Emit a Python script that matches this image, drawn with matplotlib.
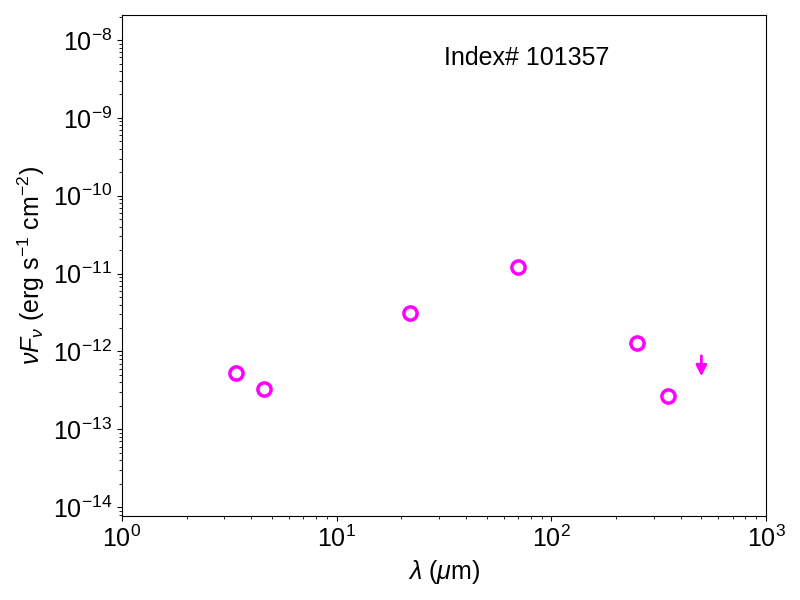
import matplotlib
matplotlib.use("Agg")
import matplotlib.pyplot as plt
from matplotlib.patches import FancyArrowPatch

plt.rcParams['font.family'] = ['Liberation Sans', 'DejaVu Sans']
plt.rcParams['mathtext.fontset'] = 'custom'
plt.rcParams['mathtext.rm'] = 'Liberation Sans'
plt.rcParams['mathtext.it'] = 'Liberation Sans:italic'
plt.rcParams['mathtext.bf'] = 'Liberation Sans:bold'

# photometry (micron, erg/s/cm2)
wave = [3.4, 4.6, 22.0, 70.0, 250.0, 350.0]
flux = [5.3e-13, 3.25e-13, 3.1e-12, 1.22e-11, 1.3e-12, 2.65e-13]
# upper limit
lim_wave = 500.0
lim_flux = 8.8e-13
lim_tip = 4.8e-13

fig = plt.figure(figsize=(8, 6), dpi=100)
ax = fig.add_axes([0.1525, 0.14, 0.805, 0.835])

ax.plot(wave, flux, 'o', mfc='none', mec='magenta', ms=9.5, mew=2.5)
arr = FancyArrowPatch((lim_wave, lim_flux), (lim_wave, lim_tip),
                      arrowstyle='-|>', color='magenta', lw=2,
                      mutation_scale=16, shrinkA=0, shrinkB=0)
ax.add_patch(arr)

ax.set_xscale('log')
ax.set_yscale('log')
ax.set_xlim(1, 1000)
ax.set_ylim(7.7e-15, 2.1e-8)
ax.tick_params(labelsize=18)
ax.set_xlabel(r'$\lambda$ ($\mu$m)', fontsize=18)
ax.set_ylabel(r'$\nu F_\nu$ (erg s$^{-1}$ cm$^{-2}$)', fontsize=18)
ax.text(0.5, 0.915, 'Index# 101357', transform=ax.transAxes, fontsize=18,
        ha='left', va='center')

fig.savefig('out.png', dpi=100)
